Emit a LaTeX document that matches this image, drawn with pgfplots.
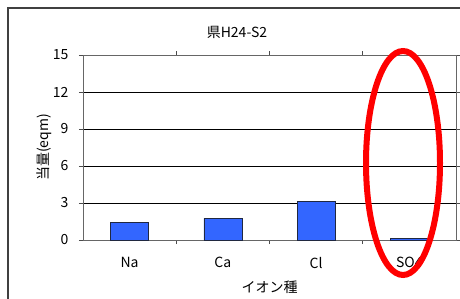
\documentclass[border=0pt]{standalone}
\usepackage{fontspec}
\setmainfont{Noto Sans CJK JP}
\usepackage{pgfplots}
\pgfplotsset{compat=1.18}
\definecolor{barblue}{HTML}{3366FF}
\definecolor{bardraw}{HTML}{202840}
\begin{document}
\begin{tikzpicture}[x=1pt,y=1pt]
\useasboundingbox (-83,-58) rectangle (377,240);
\draw[black!75, line width=1.5pt] (-75,-70) -- (-75,232) -- (400,232);
\begin{axis}[
  at={(0,0)}, anchor=south west,
  scale only axis, width=373pt, height=185pt,
  xmin=-0.5, xmax=3.5, ymin=0, ymax=15,
  ytick={0,3,6,9,12,15},
  xtick={0,1,2,3},
  xticklabels={Na,Ca,Cl,SO4},
  minor xtick={0.5,1.5,2.5},
  major x tick style={draw=none},
  minor x tick style={black!70, line width=0.8pt},
  minor tick length=4pt,
  tick align=outside,
  major tick length=4pt,
  ymajorgrids,
  grid style={black, line width=0.6pt},
  axis line style={black!60, line width=0.8pt},
  ytick style={black!70},
  /pgf/number format/assume math mode=true,
  ticklabel style={font=\fontsize{14}{15}\selectfont},
  yticklabel style={xshift=-7pt},
  xticklabel style={yshift=-10pt},
  xlabel={イオン種},
  ylabel={当量(eqm)},
  label style={font=\fontsize{14}{15}\selectfont},
  xlabel style={yshift=-5pt},
  ylabel style={yshift=-6pt},
  clip=false,
]
\addplot[ybar, bar width=38pt, fill=barblue, draw=bardraw, line width=0.6pt]
  coordinates {(0,1.43) (1,1.76) (2,3.1) (3,0.15)};
\end{axis}
\node[font=\fontsize{14}{15}\selectfont] at (154,208) {県H24-S2};
\draw[red, line width=6pt] (320,77) ellipse [x radius=37pt, y radius=112pt];
\end{tikzpicture}
\end{document}
